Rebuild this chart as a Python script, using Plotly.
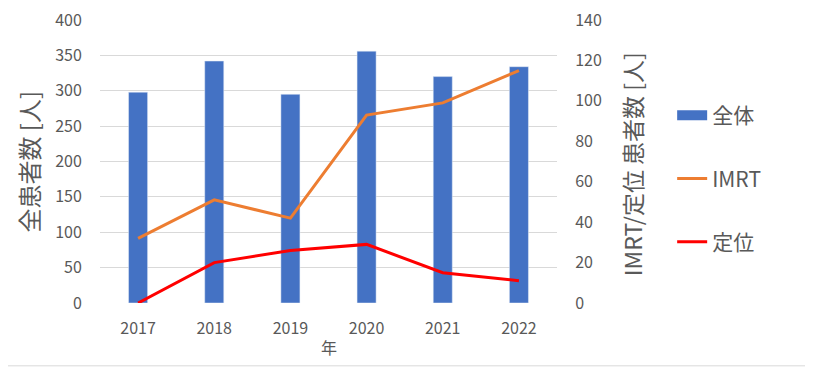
import plotly.graph_objects as go

years = ["2017", "2018", "2019", "2020", "2021", "2022"]
total = [298, 342, 295, 356, 320, 334]
imrt = [32, 51, 42, 93, 99, 115]
teii = [0, 20, 26, 29, 15, 11]

FONT = "Noto Sans CJK JP"
GRAY = "#595959"
BLUE = "#4472C4"

fig = go.Figure()
fig.add_trace(go.Bar(x=years, y=total, name="全体", marker_color=BLUE,
                     width=0.25, showlegend=False, yaxis="y"))
# legend entry for the bars (wide rectangular swatch like Excel)
fig.add_trace(go.Scatter(x=[None], y=[None], name="全体", mode="lines",
                         line=dict(color=BLUE, width=13), legendgroup="a"))
fig.add_trace(go.Scatter(x=years, y=imrt, name="IMRT", mode="lines",
                         line=dict(color="#ED7D31", width=3), legendgroup="b", yaxis="y2"))
fig.add_trace(go.Scatter(x=years, y=teii, name="定位", mode="lines",
                         line=dict(color="#FF0000", width=3), legendgroup="c", yaxis="y2"))

fig.update_layout(
    width=805, height=361,
    margin=dict(l=92, r=256, t=12, b=66, autoexpand=False),
    paper_bgcolor="white", plot_bgcolor="white",
    font=dict(family=FONT, color=GRAY, size=16),
    xaxis=dict(type="category", showgrid=False, ticks="outside", ticklen=11,
               tickcolor="rgba(0,0,0,0)", tickfont=dict(size=16, color=GRAY),
               showline=False, zeroline=False, automargin=False),
    yaxis=dict(range=[0, 400], dtick=50, showgrid=True, gridcolor="#D9D9D9",
               gridwidth=1, zeroline=False, ticks="outside", ticklen=14,
               tickcolor="rgba(0,0,0,0)", tickfont=dict(size=16, color=GRAY),
               automargin=False, ticklabeloverflow="allow"),
    yaxis2=dict(range=[0, 140], dtick=20, overlaying="y", side="right",
                showgrid=False, zeroline=False, ticks="outside", ticklen=14,
                tickcolor="rgba(0,0,0,0)", tickfont=dict(size=16, color=GRAY),
                automargin=False, ticklabeloverflow="allow"),
    showlegend=True,
    legend=dict(x=1.252, y=0.735, xanchor="left", yanchor="top",
                font=dict(size=21, color=GRAY), tracegroupgap=33,
                traceorder="grouped", bgcolor="rgba(0,0,0,0)"),
    bargap=0.75,
)

fig.add_annotation(text="全患者数 [人]", xref="paper", yref="paper",
                   x=-0.1575, y=0.5, xanchor="center", yanchor="middle",
                   textangle=-90, showarrow=False,
                   font=dict(size=24, color=GRAY, family=FONT))
fig.add_annotation(text="IMRT/定位 患者数 [人]", xref="paper", yref="paper",
                   x=1.164, y=0.49, xanchor="center", yanchor="middle",
                   textangle=-90, showarrow=False,
                   font=dict(size=23, color=GRAY, family=FONT))
fig.add_annotation(text="年", xref="paper", yref="paper",
                   x=0.5, y=-0.155, yanchor="middle", showarrow=False,
                   font=dict(size=16, color=GRAY, family=FONT))

# chart border (right and bottom edges visible inside the figure)
fig.add_shape(type="line", xref="paper", yref="paper",
              x0=1.5536, x1=1.5536, y0=-0.222, y1=1.03,
              line=dict(color="#D9D9D9", width=1))
fig.add_shape(type="line", xref="paper", yref="paper",
              x0=-0.21, x1=1.5536, y0=-0.222, y1=-0.222,
              line=dict(color="#D9D9D9", width=1))

fig.write_html("out.html")
